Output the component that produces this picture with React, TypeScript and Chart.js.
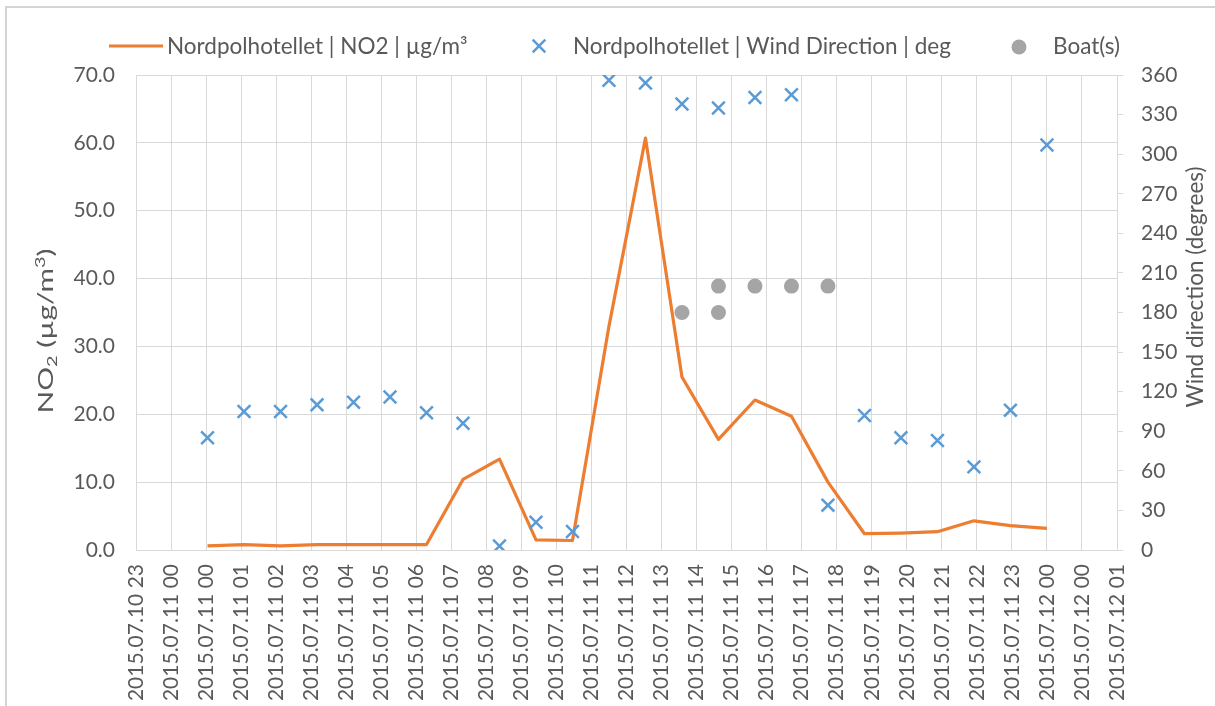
import React, { useEffect, useRef } from 'react';
import { Chart, registerables } from 'chart.js';

Chart.register(...registerables);

// ---------- data ----------
const times = [
  '2015-07-11 01:00', '2015-07-11 02:00', '2015-07-11 03:00', '2015-07-11 04:00',
  '2015-07-11 05:00', '2015-07-11 06:00', '2015-07-11 07:00', '2015-07-11 08:00',
  '2015-07-11 09:00', '2015-07-11 10:00', '2015-07-11 11:00', '2015-07-11 12:00',
  '2015-07-11 13:00', '2015-07-11 14:00', '2015-07-11 15:00', '2015-07-11 16:00',
  '2015-07-11 17:00', '2015-07-11 18:00', '2015-07-11 19:00', '2015-07-11 20:00',
  '2015-07-11 21:00', '2015-07-11 22:00', '2015-07-11 23:00', '2015-07-12 00:00',
];
const no2Values = [
  0.6, 0.8, 0.6, 0.8, 0.8, 0.8, 0.8, 10.4, 13.4, 1.5, 1.4, 33.0,
  60.7, 25.5, 16.3, 22.1, 19.7, 10.0, 2.4, 2.5, 2.7, 4.3, 3.6, 3.2,
];
const windDirections = [
  85, 105, 105, 110, 112, 116, 104, 96, 3, 21, 14, 356,
  354, 338, 335, 343, 345, 34, 102, 85, 83, 63, 106, 307,
];
const boatTimes = [
  '2015-07-11 14:00', '2015-07-11 15:00', '2015-07-11 15:00',
  '2015-07-11 16:00', '2015-07-11 17:00', '2015-07-11 18:00',
];
const boatDirections = [180, 200, 180, 200, 200, 200];

const xTickLabels = [
  '2015.07.10 23', '2015.07.11 00', '2015.07.11 00', '2015.07.11 01', '2015.07.11 02',
  '2015.07.11 03', '2015.07.11 04', '2015.07.11 05', '2015.07.11 06', '2015.07.11 07',
  '2015.07.11 08', '2015.07.11 09', '2015.07.11 10', '2015.07.11 11', '2015.07.11 12',
  '2015.07.11 13', '2015.07.11 14', '2015.07.11 15', '2015.07.11 16', '2015.07.11 17',
  '2015.07.11 18', '2015.07.11 19', '2015.07.11 20', '2015.07.11 21', '2015.07.11 22',
  '2015.07.11 23', '2015.07.12 00', '2015.07.12 00', '2015.07.12 01',
];
const axisStart = '2015-07-10 23:02:24';
const tickStepHours = 0.96;

const no2Min = 0;
const no2Max = 70;
const no2Step = 10;
const windMin = 0;
const windMax = 360;
const windStep = 30;

const legendLabels = [
  'Nordpolhotellet | NO2 | µg/m³',
  'Nordpolhotellet | Wind Direction | deg',
  'Boat(s)',
];
const rightAxisTitle = 'Wind direction (degrees)';

// ---------- styles ----------
const ORANGE = '#ED7D31';
const BLUE = '#5B9BD5';
const GRAY = '#A5A5A5';
const TEXT = '#595959';
const GRID = '#d9d9d9';
const FONT = 'Lato';

const REF = Date.UTC(2015, 6, 11);
function toHours(s: string): number {
  const [d, t] = s.split(' ');
  const [Y, M, D] = d.split('-').map(Number);
  const parts = t.split(':').map(Number);
  return (Date.UTC(Y, M - 1, D, parts[0], parts[1], parts[2] || 0) - REF) / 3600000;
}

const xMin = toHours(axisStart);
const xMax = xMin + (xTickLabels.length - 1) * tickStepHours;

const framePlugin = {
  id: 'frame',
  beforeDraw(chart: any) {
    const ctx = chart.ctx;
    ctx.save();
    ctx.fillStyle = '#ffffff';
    ctx.fillRect(0, 0, chart.width, chart.height);
    ctx.strokeStyle = '#d4d4d4';
    ctx.lineWidth = 2;
    ctx.beginPath();
    ctx.moveTo(6, chart.height);
    ctx.lineTo(6, 7);
    ctx.lineTo(chart.width, 7);
    ctx.stroke();
    ctx.restore();
  },
};

const overlayPlugin = {
  id: 'overlay',
  afterDraw(chart: any) {
    const ctx = chart.ctx;
    ctx.save();
    ctx.fillStyle = TEXT;
    ctx.textBaseline = 'alphabetic';
    ctx.textAlign = 'left';

    // legend
    const ly = 53.5;
    ctx.font = `22.5px ${FONT}`;
    ctx.strokeStyle = ORANGE;
    ctx.lineWidth = 3;
    ctx.beginPath();
    ctx.moveTo(109, 46);
    ctx.lineTo(163, 46);
    ctx.stroke();
    ctx.fillText(legendLabels[0], 167, ly);

    ctx.strokeStyle = BLUE;
    ctx.lineWidth = 2.5;
    const d = 6.3;
    ctx.beginPath();
    ctx.moveTo(539 - d, 46 - d);
    ctx.lineTo(539 + d, 46 + d);
    ctx.moveTo(539 - d, 46 + d);
    ctx.lineTo(539 + d, 46 - d);
    ctx.stroke();
    ctx.fillText(legendLabels[1], 573, ly);

    ctx.fillStyle = GRAY;
    ctx.beginPath();
    ctx.arc(1019, 47, 7.5, 0, Math.PI * 2);
    ctx.fill();
    ctx.fillStyle = TEXT;
    ctx.fillText(legendLabels[2], 1053, ly);

    // left axis title: NO2 (µg/m3) with sub/superscripts
    const big = `21px ${FONT}`;
    const small = `14px ${FONT}`;
    const pieces: [string, string, number][] = [
      ['NO', big, 0],
      ['2', small, 4],
      [' (µg/m', big, 0],
      ['3', small, -8],
      [')', big, 0],
    ];
    let total = 0;
    for (const [txt, f] of pieces) {
      ctx.font = f;
      total += ctx.measureText(txt).width;
    }
    const targetLength = 165;
    const stretch = targetLength / total;
    ctx.save();
    ctx.translate(53, 331);
    ctx.rotate(-Math.PI / 2);
    ctx.scale(stretch, 1);
    let x = -total / 2;
    for (const [txt, f, dy] of pieces) {
      ctx.font = f;
      ctx.fillText(txt, x, dy);
      x += ctx.measureText(txt).width;
    }
    ctx.restore();

    // right axis title
    ctx.save();
    ctx.font = `22.5px ${FONT}`;
    ctx.translate(1203, 287);
    ctx.rotate(-Math.PI / 2);
    ctx.textAlign = 'center';
    ctx.fillText(rightAxisTitle, 0, 0);
    ctx.restore();

    ctx.restore();
  },
};

export default function App() {
  const canvasRef = useRef<HTMLCanvasElement | null>(null);

  useEffect(() => {
    if (!canvasRef.current) return;
    Chart.defaults.font.family = FONT;
    Chart.defaults.font.size = 21;
    Chart.defaults.color = TEXT;

    const chart = new Chart(canvasRef.current, {
      type: 'scatter',
      data: {
        datasets: [
          {
            type: 'scatter',
            label: legendLabels[1],
            data: times.map((t, i) => ({ x: toHours(t), y: windDirections[i] })),
            yAxisID: 'y2',
            pointStyle: 'crossRot',
            pointRadius: 9,
            pointBorderWidth: 2.5,
            borderWidth: 2.5,
            borderColor: BLUE,
            backgroundColor: BLUE,
            pointBorderColor: BLUE,
            order: 1,
          } as any,
          {
            type: 'scatter',
            label: legendLabels[2],
            data: boatTimes.map((t, i) => ({ x: toHours(t), y: boatDirections[i] })),
            yAxisID: 'y2',
            pointStyle: 'circle',
            pointRadius: 7.5,
            pointBorderWidth: 0,
            borderWidth: 0,
            backgroundColor: GRAY,
            borderColor: GRAY,
            order: 2,
          } as any,
          {
            type: 'line',
            label: legendLabels[0],
            data: times.map((t, i) => ({ x: toHours(t), y: no2Values[i] })),
            yAxisID: 'y',
            borderColor: ORANGE,
            backgroundColor: ORANGE,
            borderWidth: 3.2,
            pointRadius: 0,
            tension: 0,
            borderJoinStyle: 'round',
            showLine: true,
            order: 3,
          } as any,
        ],
      },
      options: {
        responsive: false,
        animation: false,
        devicePixelRatio: 1,
        events: [],
        layout: { padding: { top: 75, left: 0, right: 0, bottom: 0 } },
        plugins: {
          legend: { display: false },
          tooltip: { enabled: false },
        },
        scales: {
          x: {
            type: 'linear',
            min: xMin,
            max: xMax,
            afterBuildTicks: (scale: any) => {
              scale.ticks = xTickLabels.map((_, i) => ({ value: xMin + i * tickStepHours }));
            },
            afterFit: (scale: any) => {
              scale.height = 156;
            },
            grid: { color: GRID, drawTicks: false, lineWidth: 1 },
            border: { color: GRID, width: 1 },
            ticks: {
              autoSkip: false,
              minRotation: 90,
              maxRotation: 90,
              padding: 14,
              color: TEXT,
              font: { family: FONT, size: 21 },
              callback: (_v: any, i: number) => xTickLabels[i],
            },
          },
          y: {
            type: 'linear',
            position: 'left',
            min: no2Min,
            max: no2Max,
            afterFit: (scale: any) => {
              scale.width = 136;
            },
            grid: { color: GRID, drawTicks: false },
            border: { color: GRID },
            ticks: {
              stepSize: no2Step,
              padding: 21,
              color: TEXT,
              font: { family: FONT, size: 21 },
              callback: (v: any) => Number(v).toFixed(1),
            },
          },
          y2: {
            type: 'linear',
            position: 'right',
            min: windMin,
            max: windMax,
            afterFit: (scale: any) => {
              scale.width = 98;
            },
            grid: { drawOnChartArea: false, drawTicks: true, tickLength: 6, color: GRID },
            border: { color: GRID },
            ticks: {
              stepSize: windStep,
              padding: 18,
              color: TEXT,
              font: { family: FONT, size: 21 },
            },
          },
        },
      } as any,
      plugins: [framePlugin, overlayPlugin],
    });
    return () => chart.destroy();
  }, []);

  return (
    <div style={{ position: 'fixed', left: 0, top: 0, width: 1215, height: 706 }}>
      <canvas ref={canvasRef} width={1215} height={706} style={{ display: 'block' }} />
    </div>
  );
}
